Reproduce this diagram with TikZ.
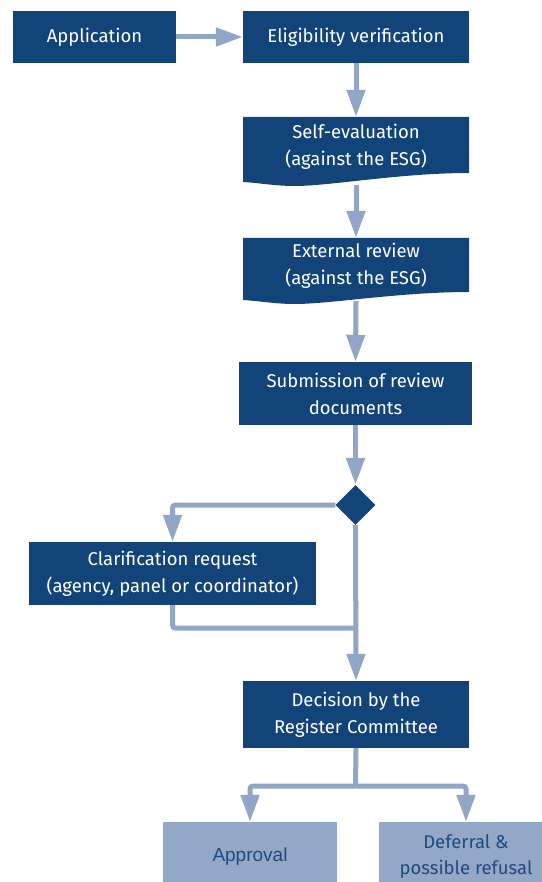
\documentclass[tikz,border=0pt]{standalone}
\usepackage{fontspec}
\setmainfont{Fira Sans}
\newfontfamily\arialfont{Liberation Sans}
\usetikzlibrary{arrows.meta,shapes.geometric,calc}
\definecolor{dkblue}{HTML}{134479}
\definecolor{ltblue}{HTML}{91A5C7}
\definecolor{boxlt}{HTML}{93A7C6}
\definecolor{txtblue}{HTML}{1E4B82}
\tikzset{
  mainbox/.style={fill=dkblue, text=white, inner sep=0pt, align=center, font=\fontsize{18.5}{27}\selectfont},
  textonly/.style={text=white, inner sep=0pt, align=center, font=\fontsize{18.5}{27}\selectfont},
  endbox/.style={fill=boxlt, text=txtblue, inner sep=0pt, align=center, minimum width=174pt, minimum height=70pt, font=\fontsize{18.5}{26}\selectfont},
  conn/.style={draw=ltblue, line width=5pt, rounded corners=3pt},
  arr/.style={conn, -{Triangle[length=27pt,width=18pt]}},
}
\begin{document}
\begin{tikzpicture}[x=1pt,y=-1pt]
\useasboundingbox (0,0) rectangle (541,882);
% wave backgrounds
\fill[dkblue] (243,117) -- (469,117) -- (469,173)
  .. controls (400,173) and (330,186) .. (295,186)
  .. controls (275,186) and (260,183) .. (243,182) -- cycle;
\fill[dkblue] (243,238) -- (469,238) -- (469,292)
  .. controls (400,292) and (330,304) .. (295,304)
  .. controls (275,304) and (260,301) .. (243,300) -- cycle;
\coordinate (join) at (355.5,628);
\coordinate (split) at (355.5,786);
\node[mainbox, minimum width=163pt, minimum height=52pt] (app) at (94.5,37) {Application};
\node[mainbox, minimum width=226pt, minimum height=52pt] (elig) at (356,37) {Eligibility verification};
\node[textonly, minimum width=226pt, minimum height=60pt] (self) at (356,147) {Self-evaluation\\(against the ESG)};
\node[textonly, minimum width=226pt, minimum height=55pt] (ext) at (356,265.5) {External review\\(against the ESG)};
\node[mainbox, minimum width=233pt, minimum height=63pt] (sub) at (355.5,393.5) {Submission of review\\documents};
\node[diamond, fill=dkblue, inner sep=0pt, minimum width=40pt, minimum height=40pt] (dia) at (355.5,505) {};
\node[mainbox, minimum width=287pt, minimum height=63pt] (clar) at (172.5,573.5) {Clarification request\\(agency, panel or coordinator)};
\node[mainbox, minimum width=226pt, minimum height=67pt] (dec) at (356,714.5) {Decision by the\\Register Committee};
\node[endbox] (appr) at (250,857) {\arialfont\fontsize{19}{26}\selectfont Approval};
\node[endbox] (defer) at (466,857) {Deferral \&\\possible refusal};
% connectors
\draw[arr] (app.east) -- (elig.west);
\draw[arr] (elig.south) -- (self.north);
\draw[arr] ([yshift=-8pt]self.south) -- (ext.north);
\draw[arr] ([yshift=-8pt]ext.south) -- (sub.north);
\draw[arr] (sub.south) -- (dia.north);
\draw[arr] (dia.west) -| (clar.north);
\draw[conn] (clar.south) |- (join);
\draw[arr] (dia.south) -- (dec.north);
\draw[conn] (dec.south) -- (split);
\draw[arr] (split) -| (appr.north);
\draw[arr] (split) -| (defer.north);
\end{tikzpicture}
\end{document}
